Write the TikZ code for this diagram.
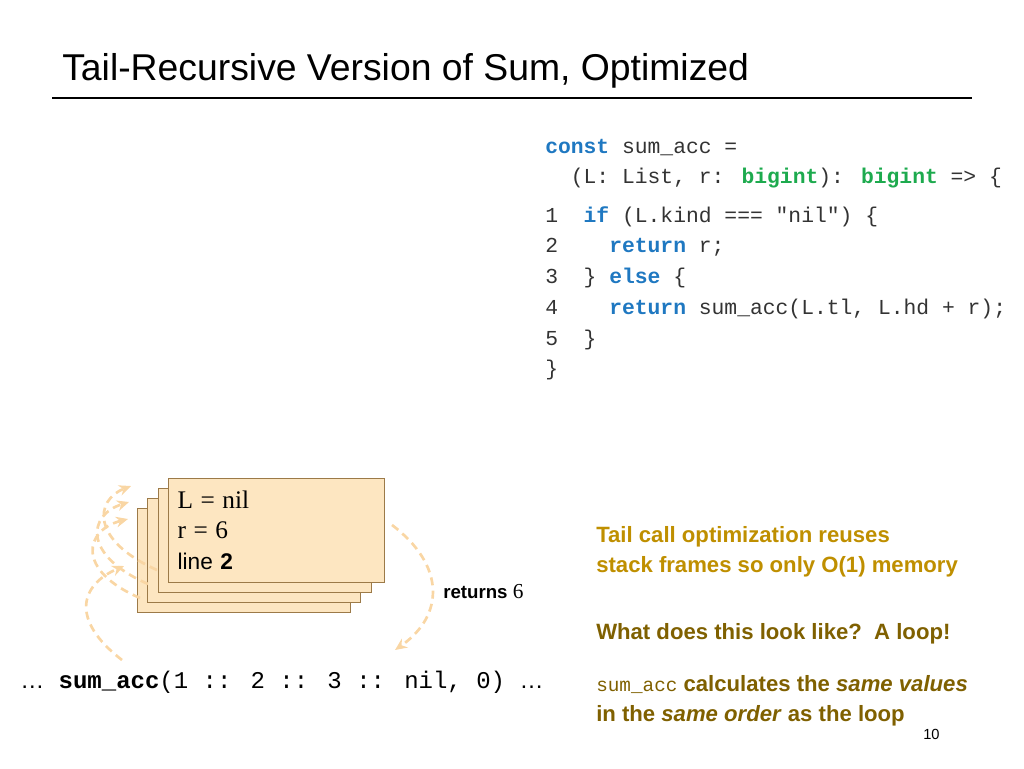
\documentclass[tikz,border=0pt]{standalone}
\usepackage{fontspec}
\setmainfont{Liberation Sans}
\newfontfamily\codefont{Liberation Mono}
\newfontfamily\mathlike{Liberation Serif}
\usetikzlibrary{arrows.meta, positioning}
\definecolor{kwblue}{HTML}{1F78C1}
\definecolor{typegreen}{HTML}{1DAA4E}
\definecolor{frameFill}{HTML}{FDE6C1}
\definecolor{frameLine}{HTML}{9C7A48}
\definecolor{goldtext}{HTML}{BF8F00}
\definecolor{browntext}{HTML}{7F6000}
\definecolor{dashorange}{HTML}{F9D6A4}
\newcommand{\kw}[1]{\textcolor{kwblue}{\bfseries #1}}
\newcommand{\ty}[1]{\textcolor{typegreen}{\bfseries #1}}
\begin{document}
\begin{tikzpicture}[
    x = 0.75pt, y = -0.75pt,
    > = {Stealth[length=9pt, width=8pt]},
    codeline/.style = {anchor=base west, inner sep=0pt, font=\codefont\fontsize{16}{18}\selectfont, text=black!80},
    frame/.style = {draw=frameLine, fill=frameFill, minimum width=160pt, minimum height=78pt, inner sep=0pt},
    callarrow/.style = {->, dashorange, line width=2pt, dash pattern=on 6pt off 4pt}
  ]
  \useasboundingbox (0,0) rectangle (1024,768);

  % title
  \node (title) [anchor=base west, inner sep=0pt, font=\fontsize{28}{32}\selectfont] at (62,80) {Tail-Recursive Version of Sum, Optimized};
  \draw[line width=2.2pt] (52,98) -- (972,98);

  % code
  \node (c0) [codeline] at (545,153) {\kw{const} sum\_acc =};
  \node (c1) [codeline] at (545,183) {\ \ (L: List, r: \ty{bigint}): \ty{bigint} => \{};
  \node (c2) [codeline] at (545,222) {1\ \ \kw{if} (L.kind === "nil") \{};
  \node (c3) [codeline] at (545,252) {2\ \ \ \ \kw{return} r;};
  \node (c4) [codeline] at (545,283) {3\ \ \} \kw{else} \{};
  \node (c5) [codeline] at (545,314) {4\ \ \ \ \kw{return} sum\_acc(L.tl, L.hd + r);};
  \node (c6) [codeline] at (545,345) {5\ \ \}};
  \node (c7) [codeline] at (545,375) {\}};

  % stack frames
  \node (f4) [frame, anchor=north west] at (137,508) {};
  \node (f3) [frame, anchor=north west] at (147,498) {};
  \node (f2) [frame, anchor=north west] at (158,488) {};
  \node (f1) [frame, anchor=north west, align=left, text width=148pt, inner xsep=7pt, inner ysep=5pt, font=\fontsize{17}{23}\selectfont] at (168,478)
    {{\mathlike\fontsize{19}{23}\selectfont L = nil}\\{\mathlike\fontsize{19}{23}\selectfont r = 6}\\line \textbf{2}};

  % call
  \node (call) [anchor=base west, inner sep=0pt, font=\codefont\fontsize{18}{20}\selectfont] at (20,688)
    {{\rmfamily …} \textbf{sum\_acc}(1 :: 2 :: 3 :: nil, 0) {\rmfamily …}};
  \coordinate (callL) at (122,660);
  \coordinate (callR) at (395,650);

  % recursive calls
  \coordinate (s2) at (140,598);
  \coordinate (s3) at (148,584);
  \coordinate (s4) at (157,570);
  \coordinate (h1) at (124,566);
  \coordinate (h2) at (128,519);
  \coordinate (h3) at (129,502);
  \coordinate (h4) at (131,486);
  \draw[callarrow] (callL) .. controls (70,620) and (80,585) .. (h1);
  \draw[callarrow] (s2) .. controls (75,570) and (85,530) .. (h2);
  \draw[callarrow] (s3) .. controls (82,555) and (88,515) .. (h3);
  \draw[callarrow] (s4) .. controls (90,540) and (95,500) .. (h4);

  % return
  \coordinate (retS) at (392,525);
  \draw[callarrow] (retS) .. controls (445,565) and (445,615) .. (callR);
  \node (ret) [anchor=base west, inner sep=0pt, font=\fontsize{14}{16}\selectfont] at (443,598) {\textbf{returns} {\mathlike\fontsize{16}{16}\selectfont 6}};

  % notes
  \node (note1) [anchor=north west, align=left, inner sep=0pt, text=goldtext, font=\bfseries\fontsize{16.6}{23}\selectfont] at (596,526)
    {Tail call optimization reuses\\stack frames so only O(1) memory};
  \node (note2) [anchor=base west, inner sep=0pt, text=browntext, font=\bfseries\fontsize{16.6}{18}\selectfont] at (596,639)
    {What does this look like?\ \ A loop!};
  \node (note3) [anchor=north west, align=left, inner sep=0pt, text=browntext, font=\bfseries\fontsize{16.6}{23}\selectfont] at (596,675)
    {{\mdseries\codefont\fontsize{14.5}{16}\selectfont sum\_acc} calculates the \textit{same values}\\in the \textit{same order} as the loop};
  \node (page) [anchor=base west, inner sep=0pt, font=\fontsize{11}{12}\selectfont] at (923,739) {10};
\end{tikzpicture}
\end{document}
